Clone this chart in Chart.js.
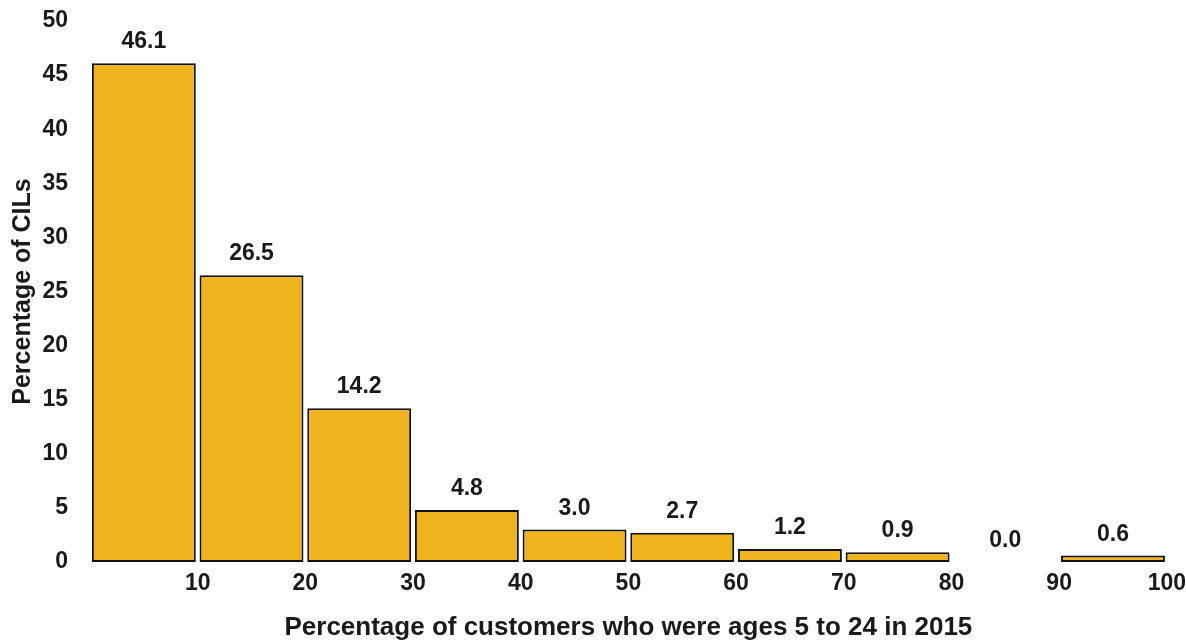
<!DOCTYPE html>
<html>
<head>
<meta charset="utf-8">
<script src="https://cdn.jsdelivr.net/npm/chart.js@4/dist/chart.umd.min.js"></script>
<style>
  html, body { margin: 0; padding: 0; background: #fff; }
  #wrap { width: 1186px; height: 643px; }
</style>
</head>
<body>
<div id="wrap"><canvas id="histChart"></canvas></div>
<script>
// bin centres (percentage of customers ages 5-24) and share of CILs
var binCenters = [5, 15, 25, 35, 45, 55, 65, 75, 85, 95];
var cilShare = [46.1, 26.5, 14.2, 4.8, 3.0, 2.7, 1.2, 0.9, 0.0, 0.6];
var xTicks = [10, 20, 30, 40, 50, 60, 70, 80, 90, 100];
var yTicks = [0, 5, 10, 15, 20, 25, 30, 35, 40, 45, 50];

var FONT = "Arial, 'Liberation Sans', Helvetica, sans-serif";

// draw the value over every bar
var valueLabels = {
  id: "valueLabels",
  afterDatasetsDraw: function (chart) {
    var ctx = chart.ctx;
    var meta = chart.getDatasetMeta(0);
    ctx.save();
    ctx.font = "bold 23px " + FONT;
    ctx.fillStyle = "#1a1a1a";
    ctx.textAlign = "center";
    ctx.textBaseline = "alphabetic";
    meta.data.forEach(function (bar, i) {
      ctx.fillText(cilShare[i].toFixed(1), bar.x, bar.y - 15);
    });
    ctx.restore();
  },
};

var ctx = document.getElementById("histChart");

var histChart = new Chart(ctx, {
  type: "bar",
  data: {
    datasets: [
      {
        label: "Percentage of CILs",
        data: binCenters.map(function (c, i) {
          return { x: c, y: cilShare[i] };
        }),
        backgroundColor: "#F0B51E",
        borderColor: "#111",
        borderWidth: 2,
        borderSkipped: false,
        categoryPercentage: 1,
        barPercentage: 0.965,
      },
    ],
  },
  options: {
    responsive: true,
    maintainAspectRatio: false,
    animation: false,
    layout: { padding: { top: 21, right: 18, bottom: 0, left: 0 } },
    plugins: {
      legend: { display: false },
      tooltip: { enabled: false },
    },
    scales: {
      x: {
        type: "linear",
        offset: false,
        min: 0,
        max: 100,
        afterBuildTicks: function (axis) {
          axis.ticks = xTicks.map(function (v) { return { value: v }; });
        },
        grid: { display: false },
        border: { display: false },
        ticks: {
          padding: 0,
          color: "#1a1a1a",
          font: { family: FONT, size: 23, weight: "bold" },
        },
        title: {
          display: true,
          text: "Percentage of customers who were ages 5 to 24 in 2015",
          color: "#1a1a1a",
          font: { family: FONT, size: 26, weight: "bold" },
          padding: { top: 10, bottom: 0 },
        },
        afterFit: function (axis) {
          axis.height = 81;
        },
      },
      y: {
        min: 0,
        max: 50,
        afterBuildTicks: function (axis) {
          axis.ticks = yTicks.map(function (v) { return { value: v }; });
        },
        grid: { display: false },
        border: { display: false },
        ticks: {
          padding: 14,
          color: "#1a1a1a",
          font: { family: FONT, size: 23, weight: "bold" },
        },
        title: {
          display: true,
          text: "Percentage of CILs",
          color: "#1a1a1a",
          font: { family: FONT, size: 25, weight: "bold" },
          padding: { top: 8, bottom: 0 },
        },
        afterFit: function (axis) {
          axis.width = 90;
          axis.paddingTop = 0;
          axis.paddingBottom = 0;
        },
      },
    },
  },
  plugins: [valueLabels],
});
</script>
</body>
</html>
